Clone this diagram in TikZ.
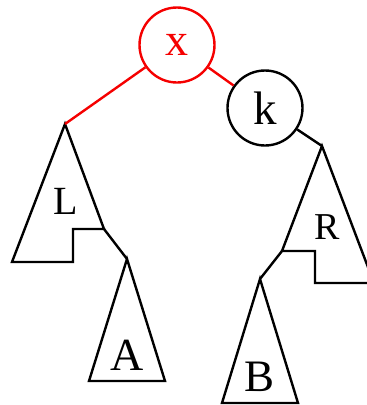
\documentclass[tikz,border=0pt]{standalone}
\usepackage{fontspec}
\setmainfont{Liberation Serif}
\usetikzlibrary{positioning}
\definecolor{rotred}{RGB}{245,0,0}

\begin{document}
\begin{tikzpicture}[
  x=1pt, y=-1pt,
  line width=2.4pt,
  line join=miter,
  knot/.style={
    draw,
    circle,
    minimum size=75pt,
    inner sep=0pt,
    fill=white
  },
  subtree/.style={draw,line width=2.4pt},
  lbl/.style={inner sep=0pt,anchor=center}
]
\clip (0,0) rectangle (367,405);

% nodes
\node[knot,draw=rotred,text=rotred,font=\fontsize{46}{46}\selectfont] (x) at (177,45) {x};
\node[knot,font=\fontsize{47}{47}\selectfont] (k) at (265,108) {k};

% subtree corners
\coordinate (La) at (65,124);
\coordinate (Ln) at (104,229);
\coordinate (Ra) at (322,146);
\coordinate (Rn) at (282,251);
\coordinate (Aa) at (127,259);
\coordinate (Ba) at (260,279);

% L
\draw[subtree] (La) -- (12,262) -- (73,262) -- (73,229) -- (Ln) -- cycle;
\node[lbl,font=\fontsize{40}{40}\selectfont] (Ltxt) at (66,201) {L};
% R
\draw[subtree] (Ra) -- (Rn) -- (315,251) -- (315,283) -- (374,283) -- cycle;
\node[lbl,font=\fontsize{38}{38}\selectfont] (Rtxt) at (327,227) {R};
% A
\draw[subtree] (Aa) -- (89,381) -- (165,381) -- cycle;
\node[lbl,font=\fontsize{46}{46}\selectfont] (Atxt) at (127,355) {A};
% B
\draw[subtree] (Ba) -- (222,403) -- (298,403) -- cycle;
\node[lbl,font=\fontsize{45}{45}\selectfont] (Btxt) at (260,377) {B};

% edges
\draw[rotred] (x) -- (La);
\draw[rotred] (x) -- (k);
\draw (k) -- (Ra);
\draw (Ln) -- (Aa);
\draw (Rn) -- (Ba);
\end{tikzpicture}
\end{document}
